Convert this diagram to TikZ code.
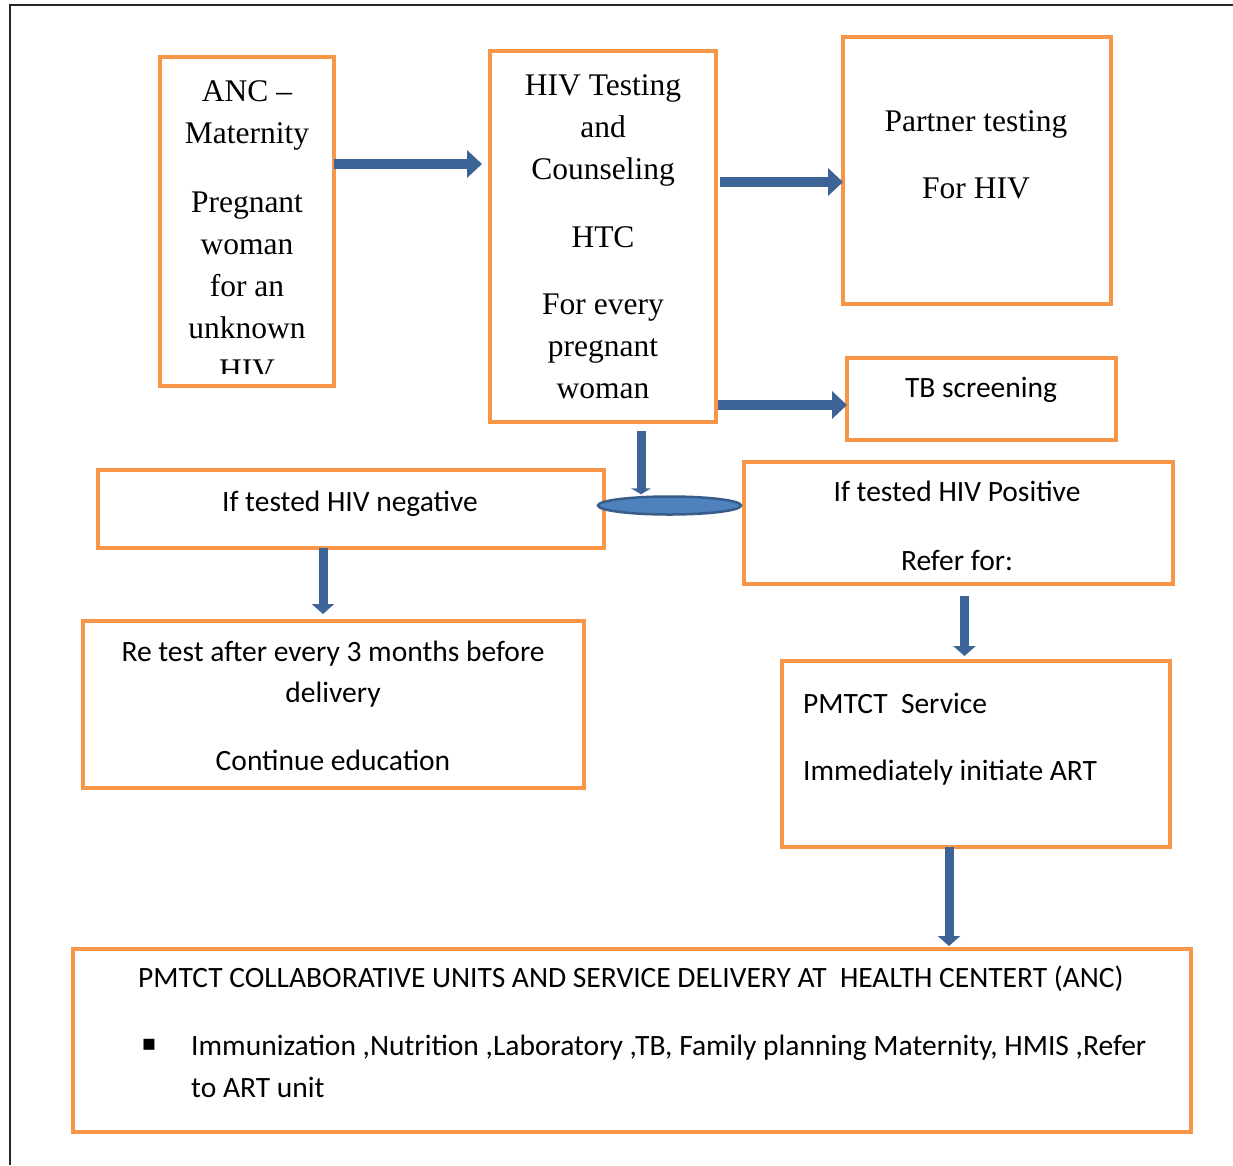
\documentclass[tikz,border=0pt]{standalone}
\usepackage{fontspec}
\setmainfont{Liberation Serif}
\newfontfamily\sanf{Carlito}
\newfontfamily\dejavu{DejaVu Sans}
\usetikzlibrary{arrows.meta,shapes.geometric}
\definecolor{boxorange}{HTML}{F79646}
\definecolor{arrowblue}{HTML}{3D6496}
\definecolor{ellfill}{HTML}{4F81BD}
\definecolor{elldraw}{HTML}{385D8A}
\begin{document}
\begin{tikzpicture}[x=1pt,y=-1pt,
  obox/.style={draw=boxorange, line width=4pt, rectangle, inner sep=0pt, outer sep=0pt},
  st/.style={font=\fontsize{31.5}{38}\selectfont, anchor=base, inner sep=0pt},
  ss/.style={font=\sanf\fontsize{29.5}{35}\selectfont, anchor=base, inner sep=0pt},
  ssl/.style={ss, anchor=base west},
  harrow/.style={draw=arrowblue, line width=10pt, -{Triangle[width=27pt,length=15pt]}},
  varrow/.style={draw=arrowblue, line width=9pt, -{Triangle[width=22pt,length=10pt]}},
  jarrow/.style={draw=arrowblue, line width=9pt, -{Triangle[width=20pt,length=6pt]}},
  junct/.style={ellipse, fill=ellfill, draw=elldraw, line width=2.5pt, minimum width=143pt, minimum height=18pt, inner sep=0pt}
]
\useasboundingbox (0,0) rectangle (1233,1165);
\fill[white] (0,0) rectangle (1233,1165);
\draw[line width=1.5pt, color=black!85] (10,1165) -- (10,5) -- (1233,5);

% boxes
\node[obox, minimum width=174pt, minimum height=329pt] (anc) at (247,221.5) {};
\node[obox, minimum width=226pt, minimum height=371pt] (htc) at (603,236.5) {};
\node[obox, minimum width=268pt, minimum height=267pt] (partner) at (977,170.5) {};
\node[obox, minimum width=269pt, minimum height=82pt] (tb) at (981.5,399) {};
\node[obox, minimum width=506pt, minimum height=78pt] (neg) at (351,509) {};
\node[obox, minimum width=429pt, minimum height=122pt] (pos) at (958.5,523) {};
\node[obox, minimum width=501pt, minimum height=167pt] (retest) at (333.5,704.5) {};
\node[obox, minimum width=388pt, minimum height=186pt] (pmtct) at (976,754) {};
\node[obox, minimum width=1118pt, minimum height=183pt] (bottom) at (632,1040.5) {};

% texts
\begin{scope}
\clip (160,57) rectangle (334,373);
\node[st] (anc1) at (247,101) {ANC –};
\node[st] (anc2) at (247,143) {Maternity};
\node[st] (anc3) at (247,212) {Pregnant};
\node[st] (anc4) at (247,254) {woman};
\node[st] (anc5) at (247,296) {for an};
\node[st] (anc6) at (247,338) {unknown};
\node[st] (anc7) at (247,380) {HIV};
\end{scope}

\node[st] (htc1) at (603,95) {HIV Testing};
\node[st] (htc2) at (603,137) {and};
\node[st] (htc3) at (603,179) {Counseling};
\node[st] (htc4) at (603,247) {HTC};
\node[st] (htc5) at (603,314) {For every};
\node[st] (htc6) at (603,356) {pregnant};
\node[st] (htc7) at (603,398) {woman};

\node[st] (pt1) at (976,131) {Partner testing};
\node[st] (pt2) at (976,198) {For HIV};

\node[ss] (tb1) at (981,397) {TB screening};
\node[ss] (neg1) at (350,511) {If tested HIV negative};
\node[ss] (pos1) at (957,501) {If tested HIV Positive};
\node[ss] (pos2) at (957,570) {Refer for:};
\node[ss] (rt1) at (333,661) {Re test after every 3 months before};
\node[ss] (rt2) at (333,702) {delivery};
\node[ss] (rt3) at (333,770) {Continue education};
\node[ssl] (pm1) at (803,713) {PMTCT\ \ Service};
\node[ssl] (pm2) at (803,780) {Immediately initiate ART};
\node[ss] (bt1) at (631,987) {PMTCT COLLABORATIVE UNITS AND SERVICE DELIVERY AT\ \ HEALTH CENTERT (ANC)};
\node[font=\dejavu\fontsize{22}{26}\selectfont, inner sep=0pt] (bullet) at (149,1045) {▪};
\node[ssl] (bt2) at (191,1055) {Immunization ,Nutrition ,Laboratory ,TB, Family planning Maternity, HMIS ,Refer};
\node[ssl] (bt3) at (191,1097) {to ART unit};

% arrows
\draw[harrow, shorten >=8pt] (anc.east |- 0,164) -- (htc.west |- 0,164);
\draw[harrow, shorten <=4pt] (htc.east |- 0,182) -- (partner.west |- 0,182);
\draw[harrow, shorten <=2pt] (htc.east |- 0,405) -- (tb.west |- 0,405);
\draw[varrow, shorten >=7pt] (neg.south -| 323,0) -- (retest.north -| 323,0);
\draw[varrow, shorten <=12pt, shorten >=5pt] (pos.south -| 964.5,0) -- (pmtct.north -| 964.5,0);
\draw[varrow, shorten >=3pt] (pmtct.south -| 949,0) -- (bottom.north -| 949,0);

\node[junct] (junction) at (669.5,505.5) {};
\draw[jarrow, shorten <=9pt] (htc.south -| 641,0) -- ([yshift=1pt]junction.north -| 641,0);
\end{tikzpicture}
\end{document}
